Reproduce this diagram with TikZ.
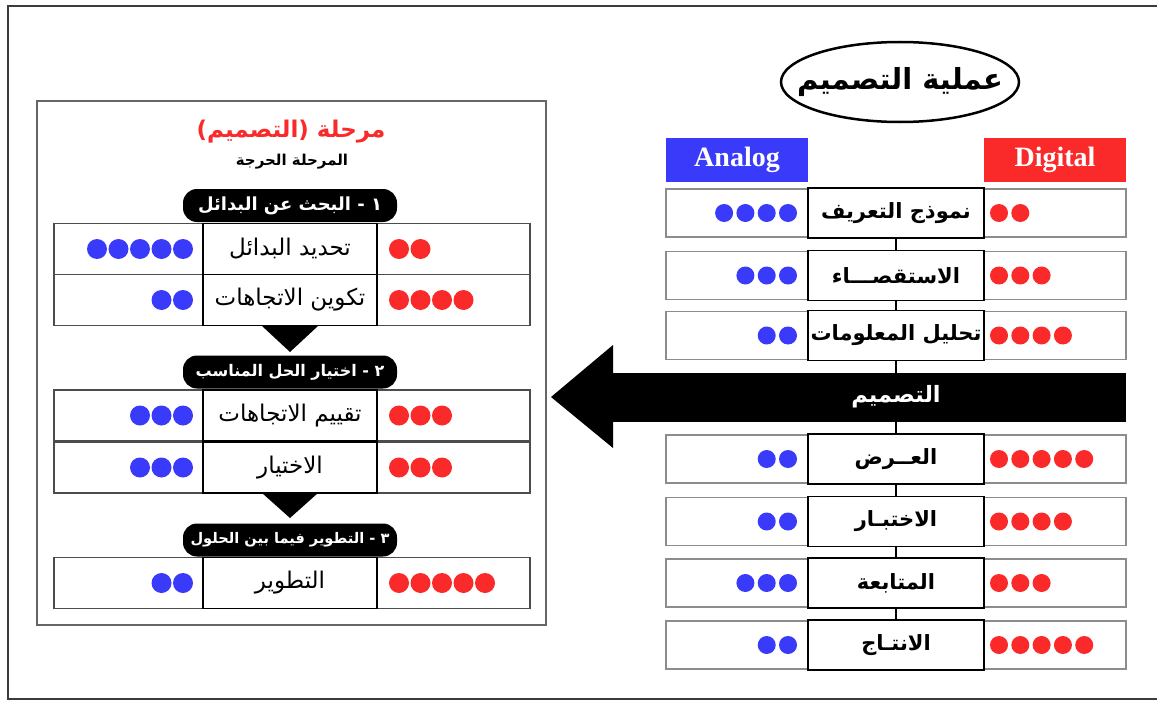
\documentclass[tikz,border=0pt]{standalone}
\usepackage{fontspec}
\usetikzlibrary{shapes.geometric}
\setmainfont{Liberation Serif}
\newfontfamily\arf[Script=Arabic]{DejaVu Sans}
\newfontfamily\latf{Liberation Serif}
\TeXXeTstate=1
\definecolor{myblue}{RGB}{58,58,250}
\definecolor{myred}{RGB}{250,42,42}
\definecolor{rowgray}{RGB}{140,140,140}
\definecolor{framegray}{RGB}{60,60,60}
\newcommand\ardots[7]{%
  \foreach \i in {1,...,#3}{\fill[myblue] ({#2-(\i-1)*#6},#1) circle[radius=#7];}%
  \foreach \i in {1,...,#5}{\fill[myred] ({#4+(\i-1)*#6},#1) circle[radius=#7];}%
}
\begin{document}
\begin{tikzpicture}[x=1pt,y=-1pt,
  rowR/.style={draw=rowgray, line width=1.3pt, minimum width=460pt, minimum height=48pt, inner sep=0pt, outer sep=0pt},
  midR/.style={draw=black, fill=white, line width=1.6pt, minimum width=176pt, minimum height=50pt, inner sep=0pt, outer sep=0pt, font=\arf\bfseries\fontsize{21}{24}\selectfont},
  rowL/.style={draw=black!70, line width=1.5pt, minimum width=476pt, minimum height=51pt, inner sep=0pt, outer sep=0pt},
  midL/.style={draw=black, fill=white, line width=1.8pt, minimum width=174pt, minimum height=51pt, inner sep=0pt, outer sep=0pt, font=\arf\fontsize{23}{26}\selectfont},
  pill/.style={fill=black, rounded corners=14pt, minimum width=214pt, minimum height=33pt, text=white, inner sep=0pt},
  pilltext/.style={text=white, inner sep=0pt, font=\arf\bfseries\fontsize{#1}{20}\selectfont},
  tag/.style={minimum width=142pt, minimum height=44pt, text=white, inner sep=0pt, font=\latf\bfseries\fontsize{28}{30}\selectfont},
  link/.style={draw=black, line width=1.5pt}
]
\useasboundingbox (0,0) rectangle (1157,701);
\fill[white] (0,0) rectangle (1157,701);
\draw[framegray, line width=2pt] (1160,6) -- (8,6) -- (8,699) -- (1160,699);

% ---------- right panel ----------
\node[draw, ellipse, line width=2.5pt, minimum width=238pt, minimum height=80pt, inner sep=0pt] (title) at (900,82) {};
\node[font=\arf\bfseries\fontsize{29}{32}\selectfont, inner sep=0pt] (titletext) at (title.center) {\beginR عملية التصميم\endR};
\node[tag, fill=myblue] (analog) at (737,160) {Analog};
\node[tag, fill=myred] (digital) at (1055,160) {Digital};

\node[rowR] (r1) at (896,213) {};
\node[midR] (m1) at (896,213) {\beginR نموذج التعريف\endR};
\node[rowR] (r2) at (896,275.5) {};
\node[midR] (m2) at (896,275.5) {\beginR الاستقصـــاء\endR};
\node[rowR] (r3) at (896,335.5) {};
\node[midR] (m3) at (896,335.5) {\beginR تحليل المعلومات\endR};
\node[fill=black, minimum width=513pt, minimum height=49pt, inner sep=0pt, outer sep=0pt] (ban) at (869.5,397.5) {};
\fill (ban.north west) -- ++(0,-28) -- (551,397) -- (613,448) -- (ban.south west) -- cycle;
\node[text=white, font=\arf\bfseries\fontsize{22.5}{26}\selectfont] (bantext) at (896,397) {\beginR التصميم\endR};
\node[rowR] (r4) at (896,459) {};
\node[midR] (m4) at (896,459) {\beginR العــرض\endR};
\node[rowR] (r5) at (896,521.5) {};
\node[midR] (m5) at (896,521.5) {\beginR الاختبـار\endR};
\node[rowR] (r6) at (896,583) {};
\node[midR] (m6) at (896,583) {\beginR المتابعة\endR};
\node[rowR] (r7) at (896,645) {};
\node[midR] (m7) at (896,645) {\beginR الانتـاج\endR};

\draw[link] (m1) -- (m2);
\draw[link] (m2) -- (m3);
\draw[link] (m3.south) -- (m3.south |- ban.north);
\draw[link] (m4.north |- ban.south) -- (m4.north);
\draw[link] (m4) -- (m5);
\draw[link] (m5) -- (m6);
\draw[link] (m6) -- (m7);

\ardots{213}{788}{4}{999}{2}{21.3}{9pt}
\ardots{275.5}{788}{3}{999}{3}{21.3}{9pt}
\ardots{335.5}{788}{2}{999}{4}{21.3}{9pt}
\ardots{459}{788}{2}{999}{5}{21.3}{9pt}
\ardots{521.5}{788}{2}{999}{4}{21.3}{9pt}
\ardots{583}{788}{3}{999}{3}{21.3}{9pt}
\ardots{645}{788}{2}{999}{5}{21.3}{9pt}

% ---------- left panel ----------
\draw[draw=black!60, line width=1.5pt] (37,101) rectangle (546,625);
\node[text=myred, font=\arf\bfseries\fontsize{23}{27}\selectfont] (ltitle) at (291,132) {\beginR مرحلة (التصميم)\endR};
\node[font=\arf\bfseries\fontsize{15}{18}\selectfont] (lsub) at (292,162) {\beginR المرحلة الحرجة\endR};

\node[rowL] (lr1) at (292,249) {};
\node[midL] (lm1) at (290,249) {\beginR تحديد البدائل\endR};
\node[rowL] (lr2) at (292,300) {};
\node[midL] (lm2) at (290,300) {\beginR تكوين الاتجاهات\endR};
\node[pill] (p1) at (290,205.5) {};
\node[pilltext=18] (p1text) at (p1.center) {\beginR ١ - البحث عن البدائل\endR};
\fill (262,326) -- (318,326) -- (290,352) -- cycle;

\node[rowL] (lr3) at (292,415.5) {};
\node[midL] (lm3) at (290,415.5) {\beginR تقييم الاتجاهات\endR};
\node[rowL] (lr4) at (292,467.5) {};
\node[midL] (lm4) at (290,467.5) {\beginR الاختيار\endR};
\node[pill] (p2) at (290,372) {};
\node[pilltext=16] (p2text) at (p2.center) {\beginR ٢ - اختيار الحل المناسب\endR};
\fill (262,493) -- (318,493) -- (290,518) -- cycle;

\node[rowL] (lr5) at (292,583) {};
\node[midL] (lm5) at (290,583) {\beginR التطوير\endR};
\node[pill] (p3) at (290,540) {};
\node[pilltext=14.6] (p3text) at (p3.center) {\beginR ٣ - التطوير فيما بين الحلول\endR};

\ardots{249}{183}{5}{399}{2}{21.5}{10pt}
\ardots{300}{183}{2}{399}{4}{21.5}{10pt}
\ardots{415.5}{183}{3}{399}{3}{21.5}{10pt}
\ardots{467.5}{183}{3}{399}{3}{21.5}{10pt}
\ardots{583}{183}{2}{399}{5}{21.5}{10pt}
\end{tikzpicture}
\end{document}
